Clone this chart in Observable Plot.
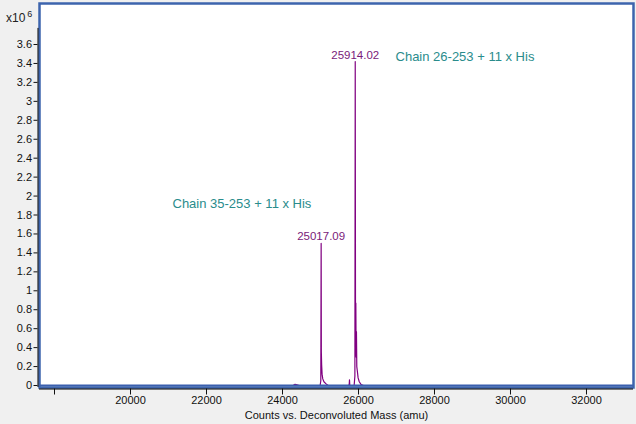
<!DOCTYPE html>
<html>
<head>
<meta charset="utf-8">
<script src="https://cdn.jsdelivr.net/npm/d3@7"></script>
<script src="https://cdn.jsdelivr.net/npm/@observablehq/plot@0.6"></script>
<style>
  html, body { margin: 0; padding: 0; background: #f0f0f0; }
  #wrap { position: relative; width: 636px; height: 424px; }
  #mult { position: absolute; left: 6px; top: 9px; font: 12px "Liberation Sans", Arial, sans-serif; color: #222; }
  #mult sup { font-size: 9px; margin-left: 2px; }
</style>
</head>
<body>
<div id="wrap">
  <div id="mult">x10<sup>6</sup></div>
</div>
<script>
// Deconvoluted mass spectrum (abundance in counts x10^6)
const masses = [17605, 24280, 24330, 24380, 24440, 24990, 25008, 25017.09, 25022, 25030, 25042, 25060, 25090, 25140, 25200,
                25735, 25755, 25763, 25771, 25885, 25905, 25914.02, 25922, 25930, 25938, 25946, 25955, 25970, 25990, 26020, 26070, 26130, 33237];
const counts = [0, 0, 0.012, 0.008, 0, 0, 0.05, 1.50, 0.35, 0.22, 0.12, 0.07, 0.04, 0.02, 0,
                0, 0.01, 0.06, 0, 0, 0.10, 3.42, 0.40, 0.87, 0.30, 0.57, 0.20, 0.15, 0.08, 0.04, 0.01, 0, 0];

const peakMasses = [25017.09, 25914.02];
const peakCounts = [1.50, 3.42];
const peakLabels = ["25017.09", "25914.02"];

const annotMass = [26974, 21105];
const annotCount = [3.47, 1.92];
const annotText = ["Chain 26-253 + 11 x His", "Chain 35-253 + 11 x His"];

const xTicks = [18000, 20000, 22000, 24000, 26000, 28000, 30000, 32000];
const yTicks = [0, 0.2, 0.4, 0.6, 0.8, 1, 1.2, 1.4, 1.6, 1.8, 2, 2.2, 2.4, 2.6, 2.8, 3, 3.2, 3.4, 3.6];
const xDomain = [17605, 33237];
const yDomain = [-0.021, 4.033];
const yAxisTop = 3.77;

const spectrum = masses.map((m, i) => ({mass: m, count: counts[i]}));
const peaks = peakMasses.map((m, i) => ({mass: m, count: peakCounts[i], label: peakLabels[i]}));
const annots = annotMass.map((m, i) => ({mass: m, count: annotCount[i], text: annotText[i]}));

const font = '"Liberation Sans", Arial, sans-serif';

const chart = Plot.plot({
  width: 636,
  height: 424,
  marginLeft: 39,
  marginRight: 3,
  marginTop: 3,
  marginBottom: 37,
  style: {background: "transparent", fontFamily: font, fontSize: "11px", color: "#111"},
  x: {domain: xDomain, ticks: xTicks, tickFormat: d => d === 18000 ? "" : String(d), tickSize: 6, tickPadding: 1,
      label: "Counts vs. Deconvoluted Mass (amu)", labelAnchor: "center", labelArrow: "none", labelOffset: 31},
  y: {domain: yDomain, ticks: yTicks, tickFormat: d => String(+d.toFixed(1)), tickSize: 4, tickPadding: 2, label: null},
  marks: [
    Plot.frame({fill: "white", stroke: null}),
    Plot.line(spectrum, {x: "mass", y: "count", stroke: "#800080", strokeWidth: 1.2}),
    Plot.ruleY([0], {stroke: "#3a5fae", strokeWidth: 2}),
    Plot.frame({stroke: "#3d64ad", strokeWidth: 2.5}),
    Plot.ruleX([xDomain[0]], {y1: yDomain[0], y2: yAxisTop, stroke: "#000", strokeWidth: 1, dx: -1.5}),
    Plot.ruleY([yDomain[0]], {stroke: "#000", strokeWidth: 1, dy: 1.5}),
    Plot.axisX({ticks: xTicks, tickFormat: d => d === 18000 ? "" : String(d), tickSize: 6, tickPadding: 1, dy: 1.5,
      label: "Counts vs. Deconvoluted Mass (amu)", labelAnchor: "center", labelArrow: "none", labelOffset: 31}),
    Plot.axisY({ticks: yTicks, tickFormat: d => String(+d.toFixed(1)), tickSize: 4, tickPadding: 2, dx: -1.5, label: null}),
    Plot.text(peaks, {x: "mass", y: "count", text: "label", fill: "#7a1a7a", fontSize: 11.5, lineAnchor: "bottom", dy: -3}),
    Plot.text(annots, {x: "mass", y: "count", text: "text", fill: "#2a8c8c", fontSize: 13, textAnchor: "start"})
  ]
});
document.getElementById("wrap").appendChild(chart);
chart.style.position = "absolute";
chart.style.left = "0";
chart.style.top = "0";
</script>
</body>
</html>
